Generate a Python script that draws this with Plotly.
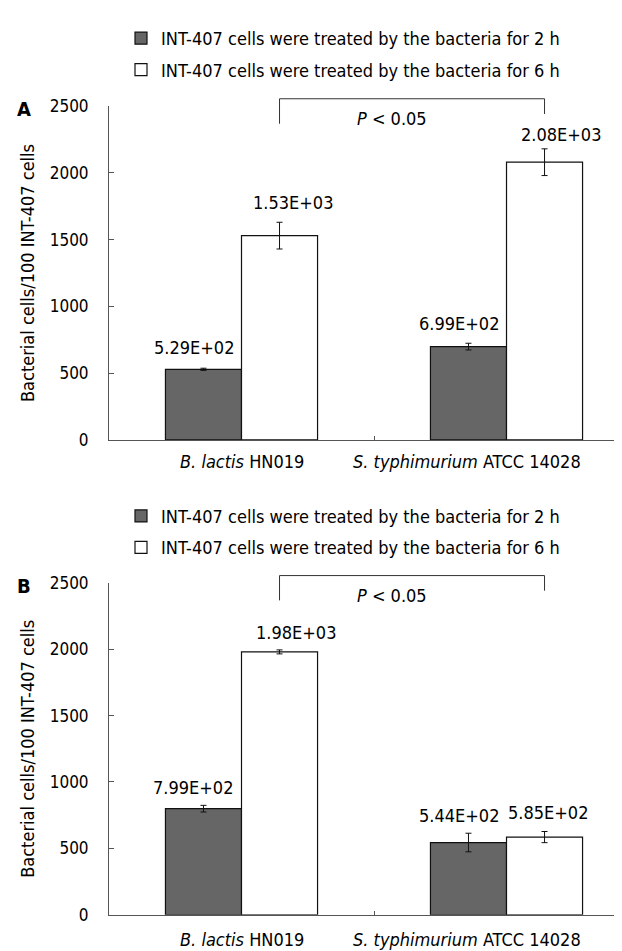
import plotly.graph_objects as go

# ---------------- data ----------------
categories = ["<i>B. lactis</i> HN019", "<i>S. typhimurium</i> ATCC 14028"]
series_names = ["INT-407 cells were treated by the bacteria for 2 h",
                "INT-407 cells were treated by the bacteria for 6 h"]

a_2h = [529, 699]
a_2h_err = [8, 25]
a_6h = [1530, 2080]
a_6h_err = [100, 100]
a_labels_2h = ["5.29E+02", "6.99E+02"]
a_labels_6h = ["1.53E+03", "2.08E+03"]

b_2h = [799, 544]
b_2h_err = [25, 70]
b_6h = [1980, 585]
b_6h_err = [15, 42]
b_labels_2h = ["7.99E+02", "5.44E+02"]
b_labels_6h = ["1.98E+03", "5.85E+02"]

y_ticks = [0, 500, 1000, 1500, 2000, 2500]
sig_text = "<i>P</i> < 0.05"
# bracket heights (data units): top, left leg bottom, right leg bottom
bracket = [2555, 2368, 2441]

# ---------------- style ----------------
W, H = 622, 951
FONT = "DejaVu Sans Condensed, DejaVu Sans, sans-serif"
FS = 18
GRAY = "#666666"
AXC = "#555555"
bargap = 0.426
xr = [-0.5, 1.466]
x_dom = [101 / W, 1.0]
yA_dom = [1 - 431 / H, 1 - 90 / H]
yB_dom = [1 - 916 / H, 1 - 577 / H]
off = (1 - bargap) / 4.0
# nudges of the value labels (px), per panel: (2 h, 6 h)
shiftA = ([-9, -9], [13, 16])
shiftB = ([-10, -9], [16, 3])
liftA = ([8, 7], [7, 2])
liftB = ([5, 5], [5, 7])

fig = go.Figure()

def add_panel(xa, ya, leg, v2, e2, v6, e6):
    fig.add_trace(go.Bar(
        x=categories, y=v2, name=series_names[0], xaxis=xa, yaxis=ya,
        marker=dict(color=GRAY, line=dict(color="#111111", width=1.2)),
        error_y=dict(type="data", array=e2, color="#111111", thickness=1, width=3),
        legend=leg, legendgroup=leg + "a"))
    fig.add_trace(go.Bar(
        x=categories, y=v6, name=series_names[1], xaxis=xa, yaxis=ya,
        marker=dict(color="white", line=dict(color="#111111", width=1.2)),
        error_y=dict(type="data", array=e6, color="#111111", thickness=1, width=3),
        legend=leg, legendgroup=leg + "b"))

add_panel("x", "y", "legend", a_2h, a_2h_err, a_6h, a_6h_err)
add_panel("x2", "y2", "legend2", b_2h, b_2h_err, b_6h, b_6h_err)

tfont = dict(family=FONT, size=FS, color="black")
xaxis = dict(showline=True, linecolor=AXC, linewidth=1, showgrid=False, zeroline=False,
             type="category", range=xr, domain=x_dom, ticks="inside",
             tickson="boundaries", ticklen=4, tickcolor=AXC, showticklabels=False)
yaxis = dict(showline=True, linecolor=AXC, linewidth=1, showgrid=False, zeroline=False,
             range=[0, 2500], tickvals=y_ticks, ticks="inside", ticklen=5,
             tickcolor=AXC, tickfont=dict(family=FONT, size=17, color="black"),
             ticklabelstandoff=16,
             title=dict(text="Bacterial cells/100 INT-407 cells", font=tfont, standoff=10))

legfont = dict(family=FONT, size=FS, color="black")
fig.update_layout(
    width=W, height=H, margin=dict(l=0, r=0, t=0, b=0),
    paper_bgcolor="white", plot_bgcolor="white",
    barmode="group", bargap=bargap, bargroupgap=0,
    font=dict(family=FONT, size=FS, color="black"),
    xaxis=dict(xaxis, anchor="y"),
    yaxis=dict(yaxis, domain=yA_dom, anchor="x"),
    xaxis2=dict(xaxis, anchor="y2"),
    yaxis2=dict(yaxis, domain=yB_dom, anchor="x2"),
    legend=dict(x=113 / W, xanchor="left", y=1 - 2 / H, yanchor="top",
                font=legfont, tracegroupgap=5, bgcolor="rgba(0,0,0,0)"),
    legend2=dict(x=113 / W, xanchor="left", y=1 - 490 / H, yanchor="top",
                 font=legfont, tracegroupgap=5, bgcolor="rgba(0,0,0,0)"),
    showlegend=True,
)

def xfrac(v):
    return (v - xr[0]) / (xr[1] - xr[0])

def panel_deco(xa, ya, letter, v2, e2, l2, v6, e6, l6, shifts, lifts, cat_drop):
    for i in range(len(categories)):
        for val, err, lab, sgn, sh, lf in ((v2[i], e2[i], l2[i], -1, shifts[0][i], lifts[0][i]),
                                           (v6[i], e6[i], l6[i], 1, shifts[1][i], lifts[1][i])):
            fig.add_annotation(x=i + sgn * off, y=val + err, xref=xa, yref=ya,
                               text=lab, showarrow=False, yanchor="bottom", yshift=lf,
                               xshift=sh, font=dict(family=FONT, size=FS, color="black"))
    xd, yd = xa + " domain", ya + " domain"
    # category labels: first centred, last kept inside the plot (ends at its bar group edge)
    fig.add_annotation(x=0, y=0, xref=xa, yref=yd, text=categories[0], showarrow=False,
                       xanchor="center", yanchor="top", yshift=-cat_drop, font=tfont)
    fig.add_annotation(x=1 + 2 * off, y=0, xref=xa, yref=yd, text=categories[1],
                       showarrow=False, xanchor="right", yanchor="top", yshift=-cat_drop,
                       font=tfont)
    xl, xrr = xfrac(0 + off), xfrac(1 + off)
    top, lb, rb = [b / 2500 for b in bracket]
    line = dict(color="#333333", width=1)
    fig.add_shape(type="line", xref=xd, yref=yd, x0=xl, x1=xrr, y0=top, y1=top, line=line)
    fig.add_shape(type="line", xref=xd, yref=yd, x0=xl, x1=xl, y0=top, y1=lb, line=line)
    fig.add_shape(type="line", xref=xd, yref=yd, x0=xrr, x1=xrr, y0=top, y1=rb, line=line)
    fig.add_annotation(x=(xl + xrr) / 2, y=(lb + rb) / 2, xref=xd, yref=yd, xshift=-20,
                       text=sig_text, showarrow=False, yanchor="middle",
                       font=dict(family=FONT, size=FS, color="black"))
    fig.add_annotation(x=16 / W, y=1, xref="paper", yref=yd, text="<b>" + letter + "</b>",
                       showarrow=False, xanchor="center", yanchor="middle", yshift=-3,
                       font=dict(family=FONT, size=20, color="black"))

panel_deco("x", "y", "A", a_2h, a_2h_err, a_labels_2h, a_6h, a_6h_err, a_labels_6h,
           shiftA, liftA, 9)
panel_deco("x2", "y2", "B", b_2h, b_2h_err, b_labels_2h, b_6h, b_6h_err, b_labels_6h,
           shiftB, liftB, 12)

fig.write_html("out.html")
